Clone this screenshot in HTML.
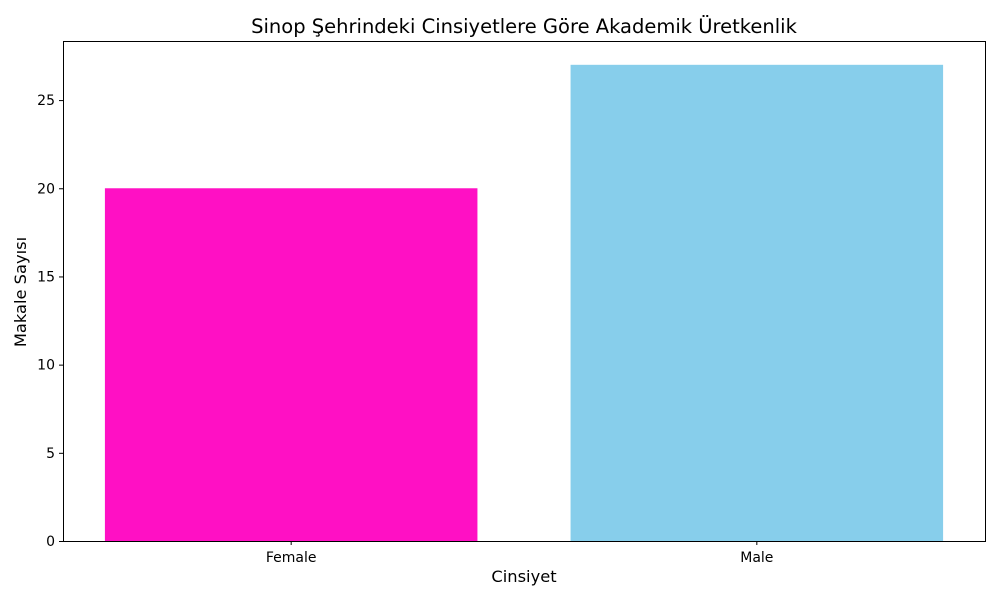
<!DOCTYPE html>
<html><head><meta charset="utf-8"><style>
body{margin:0;background:#fff;}
text{font-family:"DejaVu Sans","Liberation Sans",sans-serif;}
</style></head><body>
<svg id="chart" width="1000" height="600" xmlns="http://www.w3.org/2000/svg">
<text x="524" y="33" font-size="19.5" text-anchor="middle">Sinop Şehrindeki Cinsiyetlere Göre Akademik Üretkenlik</text>
<text x="524" y="582" font-size="16.3" text-anchor="middle">Cinsiyet</text>
<text transform="translate(26,292) rotate(-90)" font-size="16.3" text-anchor="middle">Makale Sayısı</text>
<g id="bars"></g><g id="ticks"></g>
<rect x="63.5" y="41.5" width="922" height="500" fill="none" stroke="#000" stroke-width="1"/>
</svg>
<script>
const categories=["Female","Male"];
const values=[20,27];
const colors=["#ff10c4","#87ceeb"];
const yTicks=[0,5,10,15,20,25];
const L=63,R=985,T=41,B=541,yMax=28.35,xMin=-0.49,xMax=1.49;
const sx=v=>L+(v-xMin)/(xMax-xMin)*(R-L);
const sy=v=>B-v/yMax*(B-T);
const ns="http://www.w3.org/2000/svg";
const bars=document.getElementById('bars'),ticks=document.getElementById('ticks');
categories.forEach((c,i)=>{
 const r=document.createElementNS(ns,'rect');
 r.setAttribute('x',sx(i-0.4));r.setAttribute('width',sx(i+0.4)-sx(i-0.4));
 r.setAttribute('y',sy(values[i]));r.setAttribute('height',B-sy(values[i]));
 r.setAttribute('fill',colors[i]);
 
 
 bars.appendChild(r);
 const l=document.createElementNS(ns,'line');
 l.setAttribute('x1',sx(i));l.setAttribute('x2',sx(i));l.setAttribute('y1',B);l.setAttribute('y2',B+4);l.setAttribute('stroke','#000');
 
 
 ticks.appendChild(l);
 const t=document.createElementNS(ns,'text');
 t.setAttribute('x',sx(i));t.setAttribute('y',B+21);t.setAttribute('font-size','14');t.setAttribute('text-anchor','middle');
 t.textContent=c;
 
 
 ticks.appendChild(t);
});
yTicks.forEach(v=>{
 const l=document.createElementNS(ns,'line');
 l.setAttribute('x1',L-4);l.setAttribute('x2',L);l.setAttribute('y1',sy(v)+0.5);l.setAttribute('y2',sy(v)+0.5);l.setAttribute('stroke','#000');
 
 
 ticks.appendChild(l);
 const t=document.createElementNS(ns,'text');
 t.setAttribute('x',L-8);t.setAttribute('y',sy(v)+5);t.setAttribute('font-size','14');t.setAttribute('text-anchor','end');
 t.textContent=v;
 
 
 ticks.appendChild(t);
});
</script>
</body></html>
